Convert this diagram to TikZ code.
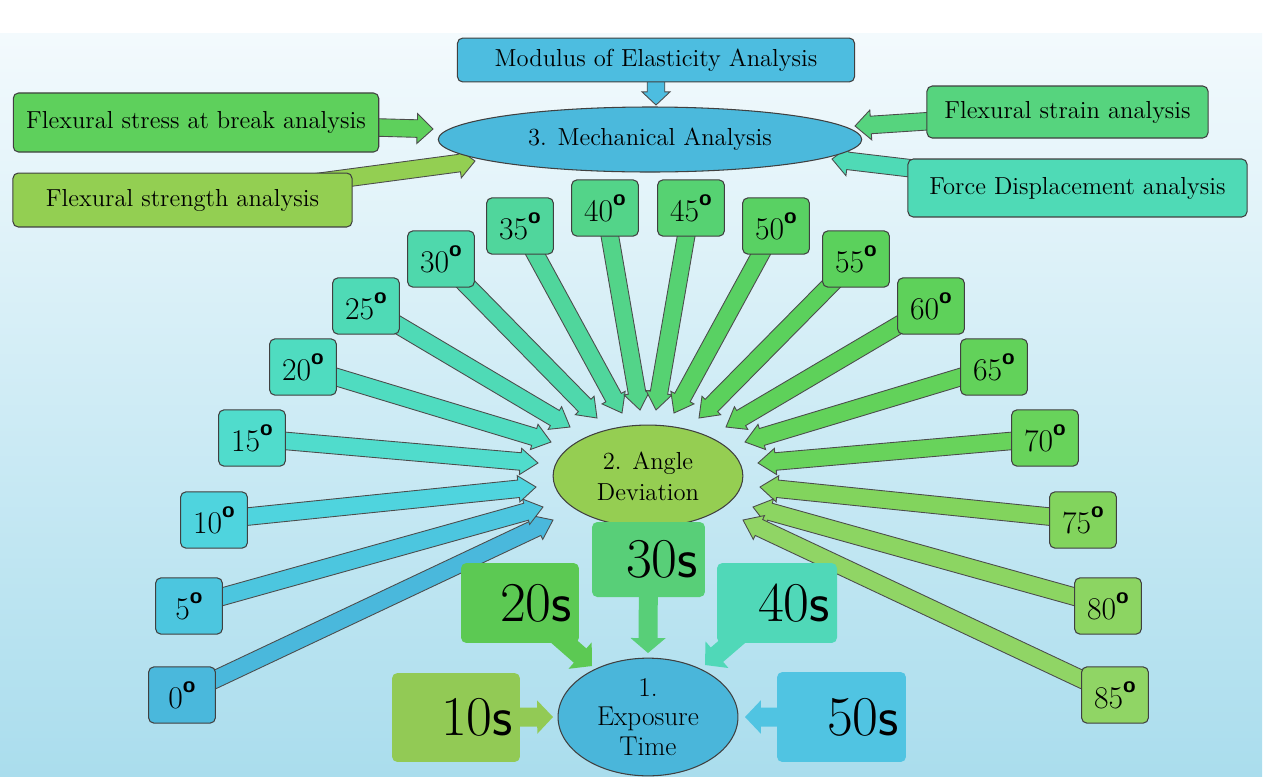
\documentclass[tikz,border=0pt]{standalone}
\usepackage{fontspec}
\usetikzlibrary{calc,shapes.geometric}

\definecolor{bgtop}{HTML}{F3FAFD}
\definecolor{bgbottom}{HTML}{AADDED}
\definecolor{cmod}{HTML}{4DBDE0}
\definecolor{cmech}{HTML}{4BB9DC}
\definecolor{cstress}{HTML}{5ED05C}
\definecolor{cstrength}{HTML}{93CF52}
\definecolor{cstrain}{HTML}{56D47E}
\definecolor{cforce}{HTML}{4FDAB6}
\definecolor{cangle}{HTML}{95CE52}
\definecolor{cexpo}{HTML}{4AB6DA}
\definecolor{c10s}{HTML}{92CA55}
\definecolor{c20s}{HTML}{5CC953}
\definecolor{c30s}{HTML}{58CF78}
\definecolor{c40s}{HTML}{50D8B8}
\definecolor{c50s}{HTML}{50C4E2}
\definecolor{cdeg0}{HTML}{4AB8DC}
\definecolor{cdeg5}{HTML}{4CC6DF}
\definecolor{cdeg10}{HTML}{4FD4DE}
\definecolor{cdeg15}{HTML}{50DCCC}
\definecolor{cdeg20}{HTML}{4FDCC0}
\definecolor{cdeg25}{HTML}{4FDAB6}
\definecolor{cdeg30}{HTML}{4FD8AC}
\definecolor{cdeg35}{HTML}{50D69C}
\definecolor{cdeg40}{HTML}{53D489}
\definecolor{cdeg45}{HTML}{56D272}
\definecolor{cdeg50}{HTML}{59D163}
\definecolor{cdeg55}{HTML}{5BD15C}
\definecolor{cdeg60}{HTML}{5ED15A}
\definecolor{cdeg65}{HTML}{62D25A}
\definecolor{cdeg70}{HTML}{68D35B}
\definecolor{cdeg75}{HTML}{82D45D}
\definecolor{cdeg80}{HTML}{8CD562}
\definecolor{cdeg85}{HTML}{90D565}

\pgfdeclarelayer{back}
\pgfdeclarelayer{mid}
\pgfsetlayers{back,mid,main}

\tikzset{
    box/.style={draw=black!75, line width=0.6pt, rounded corners=3pt, inner sep=0pt, font=\fontsize{14}{17}\selectfont},
    degbox/.style={box, minimum width=38pt, minimum height=32pt, font=\fontsize{18}{20}\selectfont},
    timebox/.style={rounded corners=3pt, inner xsep=4pt, inner ysep=0pt, align=right, font=\fontsize{32}{36}\selectfont},
    oval/.style={ellipse, draw=black!75, line width=0.6pt, inner sep=0pt, align=center, font=\fontsize{14}{17.5}\selectfont},
    arrowline/.style={draw=black!70, line width=0.5pt, line join=miter},
}

\newcommand{\degmark}{\raisebox{9pt}{\fontsize{13}{13}\sffamily\bfseries o}}

% #2 from, #3 tip, #4 colour, #5 half shaft, #6 half head, #7 head length
\newcommand{\blockarrow}[7][]{%
    \coordinate (hb) at ($(#3)!#7!(#2)$);
    \draw[arrowline, fill=#4, #1] ($(#2)!#5!90:(#3)$) -- ($(hb)!#5!90:(#3)$) -- ($(hb)!#6!90:(#3)$) -- (#3)
        -- ($(hb)!#6!-90:(#3)$) -- ($(hb)!#5!-90:(#3)$) -- ($(#2)!#5!-90:(#3)$) -- cycle;
}
\newcommand{\fanarrow}[3]{\blockarrow{#1}{#2}{#3}{5pt}{7.5pt}{10pt}}

\begin{document}
\begin{tikzpicture}[x=0.02cm, y=-0.02cm]
    \useasboundingbox (0,0) rectangle (1268,782);

    \begin{pgfonlayer}{back}
        \shade[top color=bgtop, bottom color=bgbottom] (0,33) rectangle (1262,776);
    \end{pgfonlayer}

    \coordinate (tmod) at (656,105);
    \coordinate (tstress) at (433,129);
    \coordinate (tstrength) at (475,161);
    \coordinate (tstrain) at (855,126);
    \coordinate (tforce) at (832,159);

    \coordinate (t0) at (553,520);
    \coordinate (t5) at (543,507);
    \coordinate (t10) at (536,487);
    \coordinate (t15) at (538,463);
    \coordinate (t20) at (551,442);
    \coordinate (t25) at (570,427);
    \coordinate (t30) at (597,418);
    \coordinate (t35) at (622,413);
    \coordinate (t40) at (640,410);
    \coordinate (t45) at (656,410);
    \coordinate (t50) at (674,413);
    \coordinate (t55) at (699,418);
    \coordinate (t60) at (726,427);
    \coordinate (t65) at (745,442);
    \coordinate (t70) at (758,463);
    \coordinate (t75) at (760,487);
    \coordinate (t80) at (753,507);
    \coordinate (t85) at (743,520);

    \coordinate (t10s) at (553,717);
    \coordinate (t20s) at (592,666);
    \coordinate (t30s) at (648,653);
    \coordinate (t40s) at (705,665);
    \coordinate (t50s) at (745,717);

    % 3. mechanical analysis
    \node[box, fill=cmod, minimum width=226pt, minimum height=25pt] (mod) at (656,60) {Modulus of Elasticity Analysis};
    \node[oval, fill=cmech, minimum width=241pt, minimum height=37pt] (mech) at (650,139.5) {3. Mechanical Analysis};
    \node[box, fill=cstress, minimum width=208pt, minimum height=33.6pt] (stress) at (196,122.5) {Flexural stress at break analysis};
    \node[box, fill=cstrength, minimum width=193pt, minimum height=30.7pt] (strength) at (182.5,200) {Flexural strength analysis};
    \node[box, fill=cstrain, minimum width=160pt, minimum height=29.6pt] (strain) at (1067.5,112) {Flexural strain analysis};
    \node[box, fill=cforce, minimum width=193pt, minimum height=33pt] (force) at (1077.5,188) {Force Displacement analysis};

    % 2. angle deviation
    \node[oval, fill=cangle, minimum width=108pt, minimum height=58pt] (angle) at (648,476) {2. Angle\\Deviation};

    \node[degbox, fill=cdeg0] (d0) at (182,695) {0\degmark};
    \node[degbox, fill=cdeg5] (d5) at (189,606) {5\degmark};
    \node[degbox, fill=cdeg10] (d10) at (214,520) {10\degmark};
    \node[degbox, fill=cdeg15] (d15) at (252,438) {15\degmark};
    \node[degbox, fill=cdeg20] (d20) at (303,367) {20\degmark};
    \node[degbox, fill=cdeg25] (d25) at (366,306) {25\degmark};
    \node[degbox, fill=cdeg30] (d30) at (441,259) {30\degmark};
    \node[degbox, fill=cdeg35] (d35) at (520,226) {35\degmark};
    \node[degbox, fill=cdeg40] (d40) at (605,208) {40\degmark};
    \node[degbox, fill=cdeg45] (d45) at (691,208) {45\degmark};
    \node[degbox, fill=cdeg50] (d50) at (776,226) {50\degmark};
    \node[degbox, fill=cdeg55] (d55) at (856,259) {55\degmark};
    \node[degbox, fill=cdeg60] (d60) at (931,306) {60\degmark};
    \node[degbox, fill=cdeg65] (d65) at (994,367) {65\degmark};
    \node[degbox, fill=cdeg70] (d70) at (1045,438) {70\degmark};
    \node[degbox, fill=cdeg75] (d75) at (1083,520) {75\degmark};
    \node[degbox, fill=cdeg80] (d80) at (1108,606) {80\degmark};
    \node[degbox, fill=cdeg85] (d85) at (1115,695) {85\degmark};

    % 1. exposure time
    \node[oval, fill=cexpo, minimum width=102.4pt, minimum height=67pt, font=\fontsize{15.5}{17}\selectfont] (expo) at (648,717) {1.\\Exposure\\Time};

    \node[timebox, fill=c10s, text width=64.8pt, minimum height=50.6pt] (s10) at (456,717.5) {10\textsf{s}};
    \node[timebox, fill=c20s, text width=59.1pt, minimum height=45.5pt] (s20) at (520,603) {20\textsf{s}};
    \node[timebox, fill=c30s, text width=56.3pt, minimum height=42.7pt] (s30) at (648.5,559.5) {30\textsf{s}};
    \node[timebox, fill=c40s, text width=60.3pt, minimum height=45.5pt] (s40) at (777,603) {40\textsf{s}};
    \node[timebox, fill=c50s, text width=65.4pt, minimum height=51.2pt] (s50) at (841.5,717) {50\textsf{s}};

    \begin{pgfonlayer}{mid}
        \blockarrow{mod}{tmod}{cmod}{5pt}{8pt}{7.5pt}
        \blockarrow{stress}{tstress}{cstress}{5pt}{8.5pt}{9pt}
        \blockarrow{strength}{tstrength}{cstrength}{5pt}{8.5pt}{9pt}
        \blockarrow{strain}{tstrain}{cstrain}{5pt}{8.5pt}{9pt}
        \blockarrow{force}{tforce}{cforce}{5pt}{8.5pt}{9pt}

        \fanarrow{d0}{t0}{cdeg0}
        \fanarrow{d5}{t5}{cdeg5}
        \fanarrow{d10}{t10}{cdeg10}
        \fanarrow{d15}{t15}{cdeg15}
        \fanarrow{d20}{t20}{cdeg20}
        \fanarrow{d25}{t25}{cdeg25}
        \fanarrow{d30}{t30}{cdeg30}
        \fanarrow{d35}{t35}{cdeg35}
        \fanarrow{d40}{t40}{cdeg40}
        \fanarrow{d45}{t45}{cdeg45}
        \fanarrow{d50}{t50}{cdeg50}
        \fanarrow{d55}{t55}{cdeg55}
        \fanarrow{d60}{t60}{cdeg60}
        \fanarrow{d65}{t65}{cdeg65}
        \fanarrow{d70}{t70}{cdeg70}
        \fanarrow{d75}{t75}{cdeg75}
        \fanarrow{d80}{t80}{cdeg80}
        \fanarrow{d85}{t85}{cdeg85}

        \blockarrow[draw=none]{s10}{t10s}{c10s}{5.4pt}{9.5pt}{9pt}
        \blockarrow[draw=none]{s20}{t20s}{c20s}{5.4pt}{10pt}{9pt}
        \blockarrow[draw=none]{s30}{t30s}{c30s}{5.4pt}{10pt}{8.5pt}
        \blockarrow[draw=none]{s40}{t40s}{c40s}{5.4pt}{10pt}{9pt}
        \blockarrow[draw=none]{s50}{t50s}{c50s}{5.4pt}{9.5pt}{9pt}
    \end{pgfonlayer}
\end{tikzpicture}
\end{document}
